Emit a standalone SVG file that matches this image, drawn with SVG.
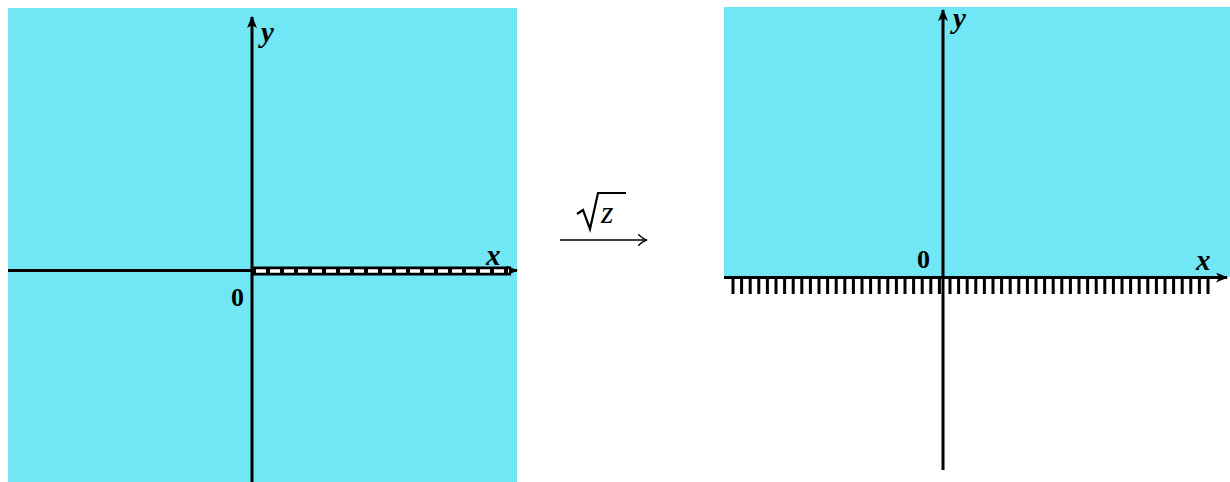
<svg xmlns="http://www.w3.org/2000/svg" width="1230" height="482" viewBox="0 0 1230 482">
<style>
.bg{fill:#71e6f4}
.ax{stroke:#000;stroke-width:3;fill:none}
.lbl{font-family:"Liberation Serif",serif;font-weight:bold;font-style:italic;font-size:29px;fill:#000}
.num{font-family:"Liberation Serif",serif;font-weight:bold;font-size:26px;fill:#000}
</style>
<defs>
<marker id="ah" viewBox="0 0 12 10" refX="11" refY="5" markerWidth="12" markerHeight="10" markerUnits="userSpaceOnUse" orient="auto">
<path d="M0,0 L12,5 L0,10 L3,5 Z" fill="#000"/>
</marker>
<marker id="thin" viewBox="0 0 10 12" refX="9" refY="6" markerWidth="10" markerHeight="12" markerUnits="userSpaceOnUse" orient="auto">
<path d="M0,0 Q5,5 9,6 Q5,7 0,12" fill="none" stroke="#000" stroke-width="1.3"/>
</marker>
</defs>
<g id="left-plane">
<rect class="bg" x="8" y="8" width="509" height="474"/>
</g>
<g id="right-plane">
<rect class="bg" x="724" y="7" width="506" height="270"/>
</g>
<g id="connectors">
<line class="ax" x1="252" y1="482" x2="252" y2="17" marker-end="url(#ah)"/>
<line class="ax" x1="8" y1="270.5" x2="517" y2="270.5" marker-end="url(#ah)"/>
<rect x="253" y="266.5" width="258" height="9" fill="#000"/>
<line x1="256" y1="271" x2="509" y2="271" stroke="#fff" stroke-width="3.5" stroke-dasharray="10,4"/>
<line class="ax" x1="943" y1="470" x2="943" y2="10" marker-end="url(#ah)"/>
<line class="ax" x1="724" y1="277.5" x2="1227" y2="277.5" marker-end="url(#ah)"/>
<g id="hatch" stroke="#000" stroke-width="3">
<path d="M733,279V294M741.6,279V294M750.2,279V294M758.8,279V294M767.4,279V294M776,279V294M784.6,279V294M793.2,279V294M801.8,279V294M810.4,279V294M819,279V294M827.6,279V294M836.2,279V294M844.8,279V294M853.4,279V294M862,279V294M870.6,279V294M879.2,279V294M887.8,279V294M896.4,279V294M905,279V294M913.6,279V294M922.2,279V294M930.8,279V294M939.4,279V294M950,279V294M958.6,279V294M967.2,279V294M975.8,279V294M984.4,279V294M993,279V294M1001.6,279V294M1010.2,279V294M1018.8,279V294M1027.4,279V294M1036,279V294M1044.6,279V294M1053.2,279V294M1061.8,279V294M1070.4,279V294M1079,279V294M1087.6,279V294M1096.2,279V294M1104.8,279V294M1113.4,279V294M1122,279V294M1130.6,279V294M1139.2,279V294M1147.8,279V294M1156.4,279V294M1165,279V294M1173.6,279V294M1182.2,279V294M1190.8,279V294M1199.4,279V294M1208,279V294"/>
</g>
<line x1="560" y1="240" x2="647" y2="240" stroke="#000" stroke-width="1.4" marker-end="url(#thin)"/>
</g>
<g id="labels">
<text class="lbl" x="261" y="42">y</text>
<text class="lbl" x="486" y="265">x</text>
<text class="num" x="231" y="306">0</text>
<text class="lbl" x="953" y="28">y</text>
<text class="lbl" x="1196" y="270">x</text>
<text class="num" x="917" y="268">0</text>
<g id="sqrt-label">
<path d="M577,214 L583,210 L590,229 L598,193 L626,193" fill="none" stroke="#000" stroke-width="2.2" stroke-linejoin="miter"/>
<text x="601" y="223" font-family="'Liberation Serif',serif" font-style="italic" font-size="32">z</text>
</g>
</g>
</svg>
